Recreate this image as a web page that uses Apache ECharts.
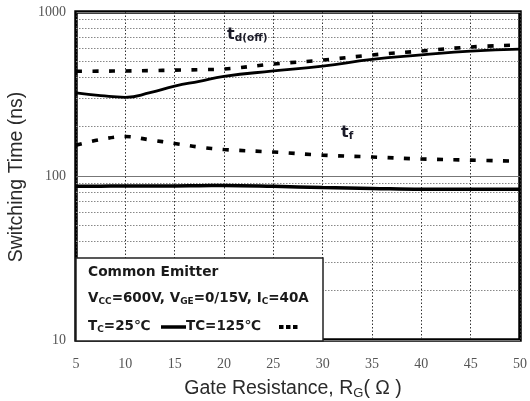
<!DOCTYPE html>
<html>
<head>
<meta charset="utf-8">
<script src="https://cdn.jsdelivr.net/npm/echarts@6/dist/echarts.min.js"></script>
<style>
  html, body { margin: 0; padding: 0; background: #fff; }
  #chart { width: 530px; height: 401px; }
</style>
</head>
<body>
<div id="chart"></div>
<script>
// Gate resistance RG (ohm)
const gateResistance = [5, 7.5, 10, 12.5, 15, 17.5, 20, 25, 30, 35, 40, 45, 50];
// Switching times (ns)
const tdOff25  = [321, 309, 302, 322, 353, 378, 405, 437, 468, 514, 547, 578, 594];
const tdOff125 = [435, 436, 437, 439, 442, 445, 449, 482, 509, 547, 578, 612, 630];
const tf25     = [86.5, 86.7, 87, 87, 87, 87.3, 87.5, 86.5, 85, 84, 83, 83, 83];
const tf125    = [154, 167, 174, 166, 158, 150, 145, 140, 134, 130.6, 127, 125, 123];
// Log-axis minor grid levels
const minorGrid = [20, 30, 40, 50, 60, 70, 80, 90, 200, 300, 400, 500, 600, 700, 800, 900];

const pairs = (ys) => gateResistance.map((x, i) => [x, ys[i]]);

const solidStyle = (w) => ({ color: '#000', width: w, type: 'solid' });
const dashStyle = { color: '#000', width: 3.6, type: [6, 10.5], cap: 'butt' };

const chart = echarts.init(document.getElementById('chart'), null, { renderer: 'canvas' });

const option = {
  animation: false,
  backgroundColor: '#fff',
  grid: {
    left: 76, right: 9, top: 12, bottom: 61,
    show: true, borderColor: '#000', borderWidth: 3.5, backgroundColor: 'transparent'
  },
  xAxis: {
    type: 'value', min: 5, max: 50, interval: 5,
    axisLine: { show: false },
    axisTick: { show: false },
    axisLabel: { margin: 17, fontFamily: 'Liberation Serif', fontSize: 14, color: '#555' },
    splitLine: { show: true, lineStyle: { color: '#333', width: 1, type: [1.5, 2] } }
  },
  yAxis: {
    type: 'log', logBase: 10, min: 10, max: 1000,
    axisLine: { show: false },
    axisTick: { show: false },
    axisLabel: {
      margin: 10, fontFamily: 'Liberation Serif', fontSize: 14, color: '#555',
      formatter: (v) => String(Math.round(v))
    },
    splitLine: { show: true, lineStyle: { color: '#777', width: 1, type: 'solid' } }
  },
  series: [
    {
      name: 'minor grid', type: 'line', data: [], silent: true,
      markLine: {
        silent: true, symbol: 'none', label: { show: false },
        lineStyle: { color: '#888', width: 1, type: [1.5, 1.5] },
        data: minorGrid.map(v => ({ yAxis: v }))
      }
    },
    { name: 'td(off) 25', type: 'line', data: pairs(tdOff25), smooth: 0.5, showSymbol: false, lineStyle: solidStyle(2.8), z: 5 },
    { name: 'td(off) 125', type: 'line', data: pairs(tdOff125), smooth: 0.4, showSymbol: false, lineStyle: dashStyle, z: 5 },
    { name: 'tf 25', type: 'line', data: pairs(tf25), smooth: 0.4, showSymbol: false, lineStyle: solidStyle(3.5), z: 5 },
    { name: 'tf 125', type: 'line', data: pairs(tf125), smooth: 0.4, showSymbol: false, lineStyle: dashStyle, z: 5 }
  ],
  graphic: [
    // axis titles
    {
      type: 'text', x: 17, y: 177, rotation: Math.PI / 2, z: 10,
      style: {
        text: 'Switching Time (ns)', fill: '#2a2a2a',
        font: '19.5px "Liberation Sans", Arial, sans-serif',
        align: 'center', verticalAlign: 'middle'
      }
    },
    {
      type: 'text', x: 293, y: 389, z: 10,
      style: {
        text: '{a|Gate Resistance, R}{s|G}{a|( Ω )}', fill: '#2a2a2a',
        align: 'center', verticalAlign: 'middle',
        rich: {
          a: { fontFamily: 'Liberation Sans', fontSize: 19.5, lineHeight: 22, fill: '#2a2a2a' },
          s: { fontFamily: 'Liberation Sans', fontSize: 13, lineHeight: 13, verticalAlign: 'bottom', fill: '#2a2a2a' }
        }
      }
    },
    // curve labels
    {
      type: 'text', x: 227, y: 35, z: 10,
      style: {
        text: '{t|t}{s|d(off)}', align: 'left', verticalAlign: 'middle',
        rich: {
          t: { fontFamily: 'DejaVu Sans', fontWeight: 'bold', fontSize: 16, lineHeight: 18, fill: '#1b1b28' },
          s: { fontFamily: 'DejaVu Sans', fontWeight: 'bold', fontSize: 10.5, lineHeight: 11, verticalAlign: 'bottom', fill: '#1b1b28' }
        }
      }
    },
    {
      type: 'text', x: 341, y: 133, z: 10,
      style: {
        text: '{t|t}{s|f}', align: 'left', verticalAlign: 'middle',
        rich: {
          t: { fontFamily: 'DejaVu Sans', fontWeight: 'bold', fontSize: 16, lineHeight: 18, fill: '#1b1b28' },
          s: { fontFamily: 'DejaVu Sans', fontWeight: 'bold', fontSize: 10.5, lineHeight: 11, verticalAlign: 'bottom', fill: '#1b1b28' }
        }
      }
    },
    // condition / legend box
    {
      type: 'rect', z: 20,
      shape: { x: 76, y: 258, width: 247, height: 83 },
      style: { fill: '#fff', stroke: '#222', lineWidth: 1.5 }
    },
    {
      type: 'text', x: 88, y: 272, z: 21,
      style: {
        text: 'Common Emitter', fill: '#1a1a1a', align: 'left', verticalAlign: 'middle',
        font: 'bold 13.8px "DejaVu Sans", sans-serif'
      }
    },
    {
      type: 'text', x: 88, y: 298, z: 21,
      style: {
        text: '{m|V}{s|CC}{m|=600V, V}{s|GE}{m|=0/15V, I}{s|C}{m|=40A}',
        align: 'left', verticalAlign: 'middle',
        rich: {
          m: { fontFamily: 'DejaVu Sans', fontWeight: 'bold', fontSize: 13.5, lineHeight: 16, fill: '#1a1a1a' },
          s: { fontFamily: 'DejaVu Sans', fontWeight: 'bold', fontSize: 9, lineHeight: 10, verticalAlign: 'bottom', fill: '#1a1a1a' }
        }
      }
    },
    {
      type: 'text', x: 88, y: 326, z: 21,
      style: {
        text: '{m|T}{s|C}{m|=25℃}',
        align: 'left', verticalAlign: 'middle',
        rich: {
          m: { fontFamily: 'DejaVu Sans', fontWeight: 'bold', fontSize: 13.5, lineHeight: 16, fill: '#1a1a1a' },
          s: { fontFamily: 'DejaVu Sans', fontWeight: 'bold', fontSize: 9, lineHeight: 10, verticalAlign: 'bottom', fill: '#1a1a1a' }
        }
      }
    },
    {
      type: 'line', z: 21,
      shape: { x1: 161, y1: 327, x2: 186, y2: 327 },
      style: { stroke: '#000', lineWidth: 3.5 }
    },
    {
      type: 'text', x: 186, y: 326, z: 21,
      style: {
        text: 'TC=125℃', fill: '#1a1a1a', align: 'left', verticalAlign: 'middle',
        font: 'bold 13.5px "DejaVu Sans", sans-serif'
      }
    },
    {
      type: 'line', z: 21,
      shape: { x1: 279, y1: 327, x2: 298, y2: 327 },
      style: { stroke: '#000', lineWidth: 4, lineDash: [4.5, 2.5] }
    }
  ]
};

chart.setOption(option);
</script>
</body>
</html>
